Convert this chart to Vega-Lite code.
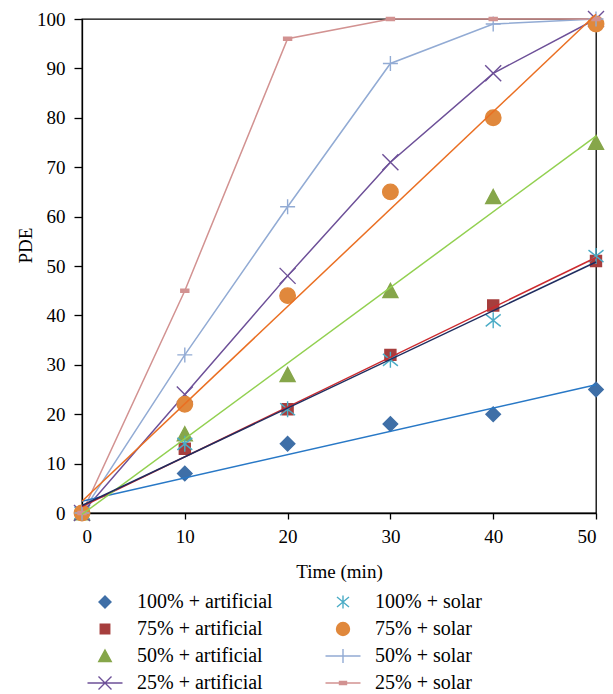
{
  "$schema": "https://vega.github.io/schema/vega-lite/v6.json",
  "width": 514,
  "height": 494,
  "autosize": "none",
  "padding": {"left": 82, "top": 19, "right": 17, "bottom": 181},
  "background": "white",
  "config": {
    "view": {"stroke": "#000", "strokeWidth": 1.3},
    "axis": {
      "domainColor": "#000", "domainWidth": 1.3, "tickColor": "#000", "tickWidth": 1.3, "tickSize": 7,
      "labelFont": "Liberation Serif", "labelFontSize": 19, "labelColor": "#000",
      "titleFont": "Liberation Serif", "titleFontSize": 19, "titleFontWeight": "normal", "titleColor": "#000",
      "grid": false
    },
    "legend": {
      "orient": "none", "legendX": 13, "legendY": 573, "columns": 2, "columnPadding": 49, "rowPadding": 7,
      "labelOffset": 22, "symbolSize": 100, "labelFont": "Liberation Serif", "labelFontSize": 20, "labelColor": "#000",
      "symbolStrokeWidth": 1.4, "padding": 0, "labelLimit": 300
    },
    "point": {"filled": true, "opacity": 1, "size": 100, "strokeWidth": 1.4},
    "line": {"strokeWidth": 1.5}
  },
  "data": {"values": [
    {"series": "100% + artificial", "t": 0, "pde": 0},
    {"series": "100% + artificial", "t": 10, "pde": 8},
    {"series": "100% + artificial", "t": 20, "pde": 14},
    {"series": "100% + artificial", "t": 30, "pde": 18},
    {"series": "100% + artificial", "t": 40, "pde": 20},
    {"series": "100% + artificial", "t": 50, "pde": 25},
    {"series": "75% + artificial", "t": 0, "pde": 0},
    {"series": "75% + artificial", "t": 10, "pde": 13},
    {"series": "75% + artificial", "t": 20, "pde": 21},
    {"series": "75% + artificial", "t": 30, "pde": 32},
    {"series": "75% + artificial", "t": 40, "pde": 42},
    {"series": "75% + artificial", "t": 50, "pde": 51},
    {"series": "50% + artificial", "t": 0, "pde": 0},
    {"series": "50% + artificial", "t": 10, "pde": 16},
    {"series": "50% + artificial", "t": 20, "pde": 28},
    {"series": "50% + artificial", "t": 30, "pde": 45},
    {"series": "50% + artificial", "t": 40, "pde": 64},
    {"series": "50% + artificial", "t": 50, "pde": 75},
    {"series": "25% + artificial", "t": 0, "pde": 0},
    {"series": "25% + artificial", "t": 10, "pde": 24},
    {"series": "25% + artificial", "t": 20, "pde": 48},
    {"series": "25% + artificial", "t": 30, "pde": 71},
    {"series": "25% + artificial", "t": 40, "pde": 89},
    {"series": "25% + artificial", "t": 50, "pde": 100},
    {"series": "100% + solar", "t": 0, "pde": 0},
    {"series": "100% + solar", "t": 10, "pde": 14},
    {"series": "100% + solar", "t": 20, "pde": 21},
    {"series": "100% + solar", "t": 30, "pde": 31},
    {"series": "100% + solar", "t": 40, "pde": 39},
    {"series": "100% + solar", "t": 50, "pde": 52},
    {"series": "75% + solar", "t": 0, "pde": 0},
    {"series": "75% + solar", "t": 10, "pde": 22},
    {"series": "75% + solar", "t": 20, "pde": 44},
    {"series": "75% + solar", "t": 30, "pde": 65},
    {"series": "75% + solar", "t": 40, "pde": 80},
    {"series": "75% + solar", "t": 50, "pde": 99},
    {"series": "50% + solar", "t": 0, "pde": 0},
    {"series": "50% + solar", "t": 10, "pde": 32},
    {"series": "50% + solar", "t": 20, "pde": 62},
    {"series": "50% + solar", "t": 30, "pde": 91},
    {"series": "50% + solar", "t": 40, "pde": 99},
    {"series": "50% + solar", "t": 50, "pde": 100},
    {"series": "25% + solar", "t": 0, "pde": 0},
    {"series": "25% + solar", "t": 10, "pde": 45},
    {"series": "25% + solar", "t": 20, "pde": 96},
    {"series": "25% + solar", "t": 30, "pde": 100},
    {"series": "25% + solar", "t": 40, "pde": 100},
    {"series": "25% + solar", "t": 50, "pde": 100}
  ]},
  "encoding": {
    "x": {"field": "t", "type": "quantitative", "scale": {"domain": [0, 50], "nice": false},
      "axis": {"values": [0, 10, 20, 30, 40, 50], "title": "Time (min)", "tickSize": 6, "labelPadding": 8, "titlePadding": 16}},
    "y": {"field": "pde", "type": "quantitative", "scale": {"domain": [0, 100], "nice": false},
      "axis": {"values": [0, 10, 20, 30, 40, 50, 60, 70, 80, 90, 100], "title": "PDE", "tickSize": 8, "labelPadding": 9, "titleX": -47, "titleY": 226}}
  },
  "layer": [
    {"transform": [{"filter": "datum.series === '25% + artificial'"}], "mark": {"type": "line", "color": "#6D5098"}, "encoding": {"order": {"field": "t"}}},
    {"transform": [{"filter": "datum.series === '50% + solar'"}], "mark": {"type": "line", "color": "#92ABD4"}, "encoding": {"order": {"field": "t"}}},
    {"transform": [{"filter": "datum.series === '25% + solar'"}], "mark": {"type": "line", "color": "#D29291"}, "encoding": {"order": {"field": "t"}}},
    {"transform": [{"filter": "datum.series === '100% + artificial'"}], "mark": {"type": "point", "shape": "M0,-1.45L1.45,0L0,1.45L-1.45,0Z", "fill": "#3F6FA7", "stroke": "#3F6FA7"}},
    {"transform": [{"filter": "datum.series === '75% + artificial'"}], "mark": {"type": "point", "shape": "M-1.1,-1.1L1.1,-1.1L1.1,1.1L-1.1,1.1Z", "fill": "#A63E3D", "stroke": "#A63E3D"}},
    {"transform": [{"filter": "datum.series === '50% + artificial'"}], "mark": {"type": "point", "shape": "M0,-1.45L1.5,1.35L-1.5,1.35Z", "fill": "#86A64A", "stroke": "#86A64A"}},
    {"transform": [{"filter": "datum.series === '25% + artificial'"}], "mark": {"type": "point", "shape": "M-1.6,-1.6L1.6,1.6M-1.6,1.6L1.6,-1.6", "fill": "#6D5098", "stroke": "#6D5098"}},
    {"transform": [{"filter": "datum.series === '100% + solar'"}], "mark": {"type": "point", "shape": "M0,-1.6L0,1.6M-1.5,-1.2L1.5,1.2M-1.5,1.2L1.5,-1.2", "fill": "#4BACC6", "stroke": "#4BACC6"}},
    {"transform": [{"filter": "datum.series === '75% + solar'"}], "mark": {"type": "point", "shape": "M1.55,0A1.55,1.55,0,1,1,-1.55,0A1.55,1.55,0,1,1,1.55,0Z", "fill": "#E0883C", "stroke": "#E0883C"}},
    {"transform": [{"filter": "datum.series === '50% + solar'"}], "mark": {"type": "point", "shape": "M-1.5,0L1.5,0M0,-1.5L0,1.5", "fill": "#92ABD4", "stroke": "#92ABD4"}},
    {"transform": [{"filter": "datum.series === '25% + solar'"}], "mark": {"type": "point", "shape": "M-0.8,-0.3L0.8,-0.3L0.8,0.3L-0.8,0.3Z", "fill": "#D29291", "stroke": "#D29291"}},
    {"transform": [{"filter": "datum.series === '100% + artificial'"}, {"regression": "pde", "on": "t"}], "mark": {"type": "line", "color": "#2878C6"}},
    {"transform": [{"filter": "datum.series === '75% + artificial'"}, {"regression": "pde", "on": "t"}], "mark": {"type": "line", "color": "#CC2A2E"}},
    {"transform": [{"filter": "datum.series === '50% + artificial'"}, {"regression": "pde", "on": "t"}], "mark": {"type": "line", "color": "#92D050"}},
    {"transform": [{"filter": "datum.series === '100% + solar'"}, {"regression": "pde", "on": "t"}], "mark": {"type": "line", "color": "#1F2C5F"}},
    {"transform": [{"filter": "datum.series === '75% + solar'"}, {"regression": "pde", "on": "t"}], "mark": {"type": "line", "color": "#EA6F22"}},
    {
      "transform": [{"filter": "false"}],
      "mark": {"type": "point"},
      "encoding": {
        "fill": {"field": "series", "type": "nominal", "legend": {"title": null},
          "scale": {"domain": ["100% + artificial","75% + artificial","50% + artificial","25% + artificial","100% + solar","75% + solar","50% + solar","25% + solar"],
                    "range": ["#3F6FA7","#A63E3D","#86A64A","#6D5098","#4BACC6","#E0883C","#92ABD4","#D29291"]}},
        "stroke": {"field": "series", "type": "nominal", "legend": {"title": null},
          "scale": {"domain": ["100% + artificial","75% + artificial","50% + artificial","25% + artificial","100% + solar","75% + solar","50% + solar","25% + solar"],
                    "range": ["#3F6FA7","#A63E3D","#86A64A","#6D5098","#4BACC6","#E0883C","#92ABD4","#D29291"]}},
        "shape": {"field": "series", "type": "nominal", "legend": {"title": null},
          "scale": {"domain": ["100% + artificial","75% + artificial","50% + artificial","25% + artificial","100% + solar","75% + solar","50% + solar","25% + solar"],
                    "range": ["M0,-1.2L1.2,0L0,1.2L-1.2,0Z",
                              "M-0.95,-0.95L0.95,-0.95L0.95,0.95L-0.95,0.95Z",
                              "M0,-1.2L1.25,1.1L-1.25,1.1Z",
                              "M-3.5,0L3.5,0M-1.3,-1.3L1.3,1.3M-1.3,1.3L1.3,-1.3",
                              "M0,-1.3L0,1.3M-1.2,-1L1.2,1M-1.2,1L1.2,-1",
                              "M1.3,0A1.3,1.3,0,1,1,-1.3,0A1.3,1.3,0,1,1,1.3,0Z",
                              "M-3.5,0L3.5,0M0,-1.4L0,1.4",
                              "M-3.5,0L3.5,0M-0.7,-0.3L0.7,-0.3L0.7,0.3L-0.7,0.3Z"]}}
      }
    }
  ]
}
